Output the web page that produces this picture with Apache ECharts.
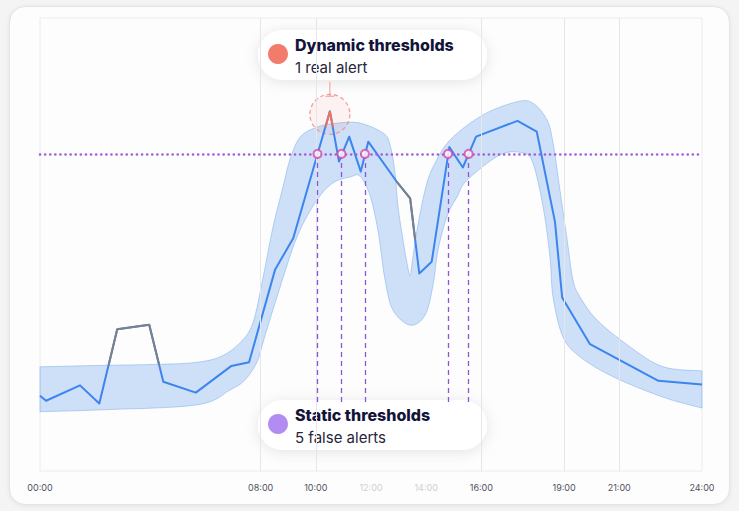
<!DOCTYPE html>
<html>
<head>
<meta charset="utf-8">
<script src="https://cdn.jsdelivr.net/npm/echarts@6/dist/echarts.min.js"></script>
<style>
  html, body { margin:0; padding:0; width:739px; height:511px; background:#f4f4f5; overflow:hidden; }
  #card { position:absolute; left:9px; top:6px; width:719px; height:497px; border-radius:16px;
          background:#fdfdfd; border:1px solid #e4e4e6; box-shadow:0 1px 5px rgba(0,0,0,0.07); }
  #chart { position:absolute; left:0; top:0; width:739px; height:511px; }
</style>
</head>
<body>
<div id="card"></div>
<div id="chart"></div>
<script>
// ---- data (x in hours of day, y in arbitrary metric units 0..100) ----
const tickHours = [0, 8, 10, 12, 14, 16, 19, 21, 24];
const fadedHours = [12, 14];
const gridHours = [8, 10, 16, 19, 21];

const observed = [
  [0, 16.6], [0.22, 15.5], [1.45, 18.9], [2.15, 14.9], [2.80, 31.3], [3.96, 32.3],
  [4.47, 19.7], [5.65, 17.3], [6.94, 23.2], [7.58, 24.0], [8.52, 44.4], [9.18, 51.4],
  [10.51, 79.4], [10.84, 68.3], [11.21, 73.8], [11.63, 66.1], [11.90, 72.7],
  [12.93, 63.9], [13.42, 60.2], [13.75, 43.6], [14.20, 46.2], [14.84, 71.5],
  [15.33, 67.0], [15.81, 73.8], [17.31, 77.3], [18.01, 74.9], [18.67, 55.0],
  [18.93, 38.3], [19.94, 28.0], [22.42, 19.9], [24, 19.1]
];

// parts of the observed line lying outside the dynamic band
const outsideLow = [[2.49, 23.4], [2.80, 31.3], [3.96, 32.3], [4.32, 23.4]];
const outsideDip = [[12.93, 63.9], [13.42, 60.2], [13.60, 51.0]];
const outsideHigh = [[10.35, 75.9], [10.51, 79.4], [10.62, 75.9]];

const bandUpper = [
  [0, 23.0], [2.18, 23.3], [3.99, 23.5], [5.55, 23.9], [6.53, 25.2], [7.25, 28.3],
  [7.72, 32.7], [8.09, 42.8], [8.45, 53.9], [8.81, 62.7], [9.06, 68.7], [9.43, 73.7],
  [10.04, 75.9], [10.77, 76.8], [11.60, 76.8], [12.44, 74.6], [12.69, 72.0],
  [12.87, 65.8], [12.98, 58.3], [13.16, 51.0], [13.34, 44.8], [13.42, 43.2],
  [13.52, 47.2], [13.67, 53.2], [13.96, 62.0], [14.25, 67.1], [14.87, 73.1],
  [16.06, 78.6], [17.29, 81.5], [17.87, 81.2], [18.38, 77.5], [18.60, 72.4],
  [18.85, 62.0], [19.11, 51.0], [19.32, 42.2], [19.58, 38.4], [20.20, 33.3],
  [21.39, 27.4], [22.59, 23.0], [24, 22.1]
];
const bandLower = [
  [0, 13.1], [2.18, 13.5], [5.69, 14.6], [6.89, 17.9], [7.43, 20.1], [7.87, 24.1],
  [8.09, 28.5], [8.59, 38.4], [9.32, 51.7], [10.04, 59.8], [10.62, 63.6], [11.24, 64.9],
  [11.60, 65.1], [11.96, 60.9], [12.25, 53.2], [12.51, 42.2], [12.80, 35.5],
  [13.42, 32.2], [13.96, 34.4], [14.25, 41.1], [14.43, 48.8], [14.76, 56.3],
  [15.12, 60.5], [15.48, 64.2], [16.68, 69.8], [17.51, 70.2], [17.87, 68.0],
  [18.24, 58.3], [18.49, 47.2], [18.60, 38.4], [18.96, 29.6], [19.58, 25.2],
  [20.78, 20.8], [22.59, 16.3], [24, 13.9]
];

const staticThreshold = 70;
const staticAlerts = [10.06, 10.93, 11.78, 14.79, 15.54];
const alertLineBottom = 15;
const dynamicAlert = [10.51, 79.4];

const FONT = 'Inter, "Noto Sans", sans-serif';

// Catmull-Rom sampling of pixel points (smooth band outline)
function smoothPixels(pts, steps) {
  const out = [];
  for (let i = 0; i < pts.length - 1; i++) {
    const p0 = pts[Math.max(i - 1, 0)], p1 = pts[i], p2 = pts[i + 1], p3 = pts[Math.min(i + 2, pts.length - 1)];
    for (let s = 0; s < steps; s++) {
      const t = s / steps, t2 = t * t, t3 = t2 * t;
      const f = (a, b, c, d) => 0.5 * ((2 * b) + (-a + c) * t + (2 * a - 5 * b + 4 * c - d) * t2 + (-a + 3 * b - 3 * c + d) * t3);
      out.push([f(p0[0], p1[0], p2[0], p3[0]), f(p0[1], p1[1], p2[1], p3[1])]);
    }
  }
  out.push(pts[pts.length - 1]);
  return out;
}

const chart = echarts.init(document.getElementById('chart'), null, { renderer: 'svg' });

function legendBox(y, dotColor, title, sub) {
  return {
    type: 'group', left: 258, top: y,
    children: [
      { type: 'rect', shape: { x: 0, y: 0, width: 229, height: 50, r: 25 },
        style: { fill: '#ffffff', shadowBlur: 14, shadowColor: 'rgba(0,0,0,0.10)', shadowOffsetY: 2 } },
      { type: 'circle', shape: { cx: 20, cy: 24, r: 10 }, style: { fill: dotColor } },
      { type: 'text', x: 37, y: 15, style: { text: title, fill: '#14143a', font: '800 16px ' + FONT, verticalAlign: 'middle' } },
      { type: 'text', x: 37, y: 37, style: { text: sub, fill: '#26263a', font: '15px ' + FONT, verticalAlign: 'middle' } }
    ]
  };
}

chart.setOption({
  animation: false,
  grid: { left: 40, right: 37, top: 18, bottom: 40, show: true, borderColor: '#ececee', borderWidth: 1, backgroundColor: 'transparent' },
  xAxis: {
    type: 'value', min: 0, max: 24,
    axisLine: { show: false }, axisTick: { show: false }, splitLine: { show: false },
    axisLabel: {
      customValues: tickHours, margin: 12, fontSize: 9, fontFamily: FONT,
      formatter: v => (fadedHours.includes(v) ? '{f|' : '{m|') + String(v).padStart(2, '0') + ':00}',
      rich: { m: { color: '#50505c', fontSize: 9, fontFamily: FONT }, f: { color: '#cfcfd4', fontSize: 9, fontFamily: FONT } }
    }
  },
  yAxis: { type: 'value', min: 0, max: 100, show: false, splitLine: { show: false } },
  series: [
    {
      type: 'line', data: [], silent: true,
      markLine: { silent: true, symbol: 'none', label: { show: false },
        lineStyle: { color: '#e6e6ea', width: 1, type: 'solid' },
        data: gridHours.map(h => ({ xAxis: h })) }
    },
    {
      type: 'custom', data: [[0, 0]], silent: true, z: 2,
      renderItem: function (params, api) {
        const up = smoothPixels(bandUpper.map(p => api.coord(p)), 8);
        const lo = smoothPixels(bandLower.slice().reverse().map(p => api.coord(p)), 8);
        return { type: 'polygon', shape: { points: up.concat(lo) },
          style: { fill: 'rgba(160,196,244,0.50)', stroke: 'rgba(130,174,236,0.55)', lineWidth: 1 } };
      }
    },
    {
      type: 'line', data: observed, symbol: 'none', z: 4,
      lineStyle: { color: '#3c84ee', width: 2, join: 'round' },
      markLine: { silent: true, symbol: 'none', label: { show: false },
        lineStyle: { color: '#a05fdc', width: 2.6, type: [0.1, 5], cap: 'round' },
        data: [{ yAxis: staticThreshold }] }
    },
    { type: 'line', data: outsideLow, symbol: 'none', z: 5, lineStyle: { color: '#7c8089', width: 2 } },
    { type: 'line', data: outsideDip, symbol: 'none', z: 5, lineStyle: { color: '#7c8089', width: 2 } },
    { type: 'line', data: outsideHigh, symbol: 'none', z: 5, lineStyle: { color: '#f07062', width: 2 } },
    {
      type: 'scatter', data: [dynamicAlert], z: 3, silent: true,
      symbol: 'circle', symbolSize: 40, symbolOffset: [0, 3],
      itemStyle: { color: 'rgba(244,120,104,0.10)', borderColor: '#f0897c', borderWidth: 1.3, borderType: [4, 3] }
    },
    {
      type: 'scatter', data: [dynamicAlert], z: 3, silent: true,
      symbol: 'path://M4,0h1v14h-1z M0,14h9v1h-9z', symbolSize: [9, 15], symbolOffset: [0, -22],
      itemStyle: { color: '#f0897c' }
    },
    {
      type: 'scatter', z: 6, silent: true,
      data: staticAlerts.map(h => [h, staticThreshold]),
      symbol: 'circle', symbolSize: 8,
      itemStyle: { color: '#ffffff', borderColor: '#d64aa6', borderWidth: 2 },
      markLine: { silent: true, symbol: 'none', label: { show: false },
        lineStyle: { color: '#8a55d8', width: 1.3, type: [5, 4] },
        data: staticAlerts.map(h => [{ coord: [h, staticThreshold] }, { coord: [h, alertLineBottom] }]) }
    }
  ],
  graphic: [
    legendBox(30, '#f27b6c', 'Dynamic thresholds', '1 real alert'),
    legendBox(400, '#b28cf0', 'Static thresholds', '5 false alerts')
  ]
});
</script>
</body>
</html>
